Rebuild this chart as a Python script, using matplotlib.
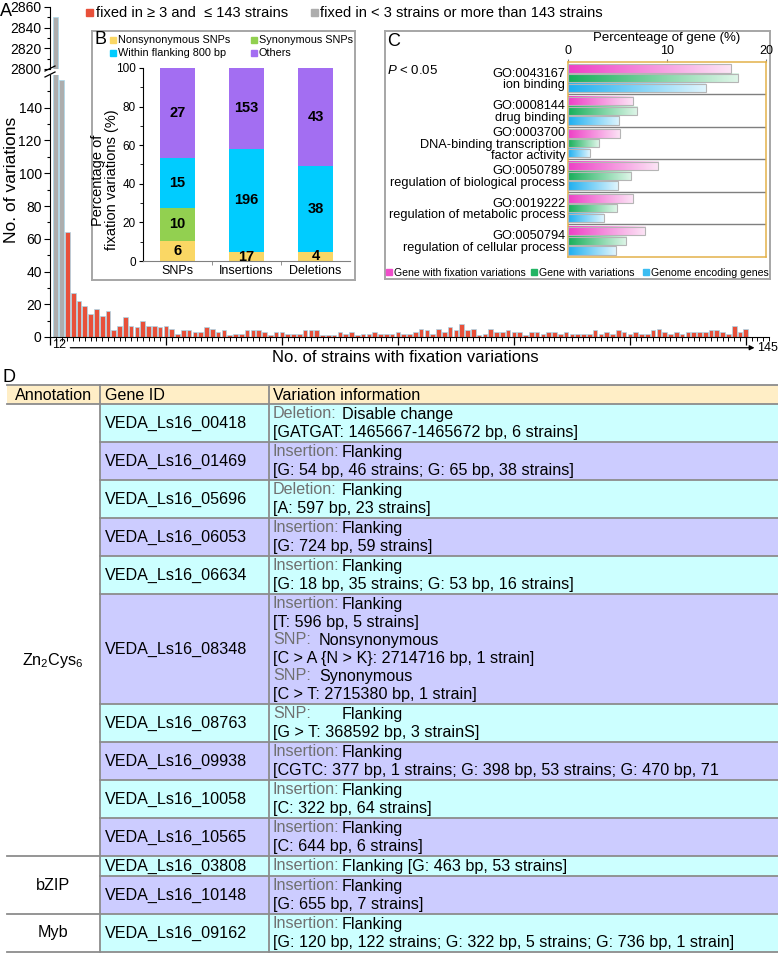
import numpy as np
import matplotlib
matplotlib.use('Agg')
import matplotlib.pyplot as plt
from matplotlib.patches import Rectangle
from matplotlib.colors import LinearSegmentedColormap

plt.rcParams['font.family'] = ['Liberation Sans', 'DejaVu Sans']
plt.rcParams['mathtext.fontset'] = 'custom'
plt.rcParams['mathtext.rm'] = 'Liberation Sans'
plt.rcParams['mathtext.it'] = 'Liberation Sans:italic'
plt.rcParams['mathtext.default'] = 'regular'

W, H = 778, 965

# ---------------- data ----------------
# panel A: number of variations per number of strains carrying the fixation
strain_counts = np.arange(1, 125)
variation_counts = [2850, 157, 64, 27, 22, 19, 14, 17, 13, 16,
                    4, 7, 12, 7, 6, 10, 7, 7, 6, 7,
                    5, 2, 4, 4, 3, 3, 6, 5, 3, 4,
                    1, 2, 2, 4, 4, 4, 3, 1, 3, 3,
                    2, 2, 2, 4, 4, 4, 1, 1, 1, 3,
                    2, 3, 1, 2, 2, 3, 2, 2, 2, 3,
                    2, 2, 3, 5, 4, 2, 5, 3, 6, 4,
                    8, 4, 5, 1, 2, 5, 3, 3, 4, 3,
                    3, 1, 3, 3, 2, 3, 3, 2, 3, 2,
                    2, 2, 2, 4, 2, 3, 2, 4, 3, 2,
                    3, 2, 2, 4, 5, 3, 2, 3, 2, 3,
                    3, 3, 3, 4, 4, 3, 2, 7, 3, 5,
                    0, 0, 0, 0]
gray_strains = [1, 2]

# panel B
b_categories = ['SNPs', 'Insertions', 'Deletions']
b_nonsyn = [6, 17, 4]
b_syn = [10, 0, 0]
b_flank = [15, 196, 38]
b_others = [27, 153, 43]

# panel C
go_terms = ['GO:0043167\nion binding',
            'GO:0008144\ndrug binding',
            'GO:0003700\nDNA-binding transcription\nfactor activity',
            'GO:0050789\nregulation of biological process',
            'GO:0019222\nregulation of metabolic process',
            'GO:0050794\nregulation of cellular process']
pct_fixation = [16.5, 6.6, 5.3, 9.1, 6.6, 7.8]
pct_variation = [17.2, 7.0, 3.1, 6.4, 4.9, 5.9]
pct_genome = [13.9, 5.2, 2.2, 5.0, 3.6, 4.8]

# panel D
annotations = ['Zn$_2$Cys$_6$', 'bZIP', 'Myb']
genes_per_annotation = [10, 2, 1]
gene_ids = ['VEDA_Ls16_00418', 'VEDA_Ls16_01469', 'VEDA_Ls16_05696',
            'VEDA_Ls16_06053', 'VEDA_Ls16_06634', 'VEDA_Ls16_08348',
            'VEDA_Ls16_08763', 'VEDA_Ls16_09938', 'VEDA_Ls16_10058',
            'VEDA_Ls16_10565', 'VEDA_Ls16_03808', 'VEDA_Ls16_10148',
            'VEDA_Ls16_09162']
variation_info = [
    [('Deletion:', 'Disable change'), ('', '[GATGAT: 1465667-1465672 bp, 6 strains]')],
    [('Insertion:', 'Flanking'), ('', '[G: 54 bp, 46 strains; G: 65 bp, 38 strains]')],
    [('Deletion:', 'Flanking'), ('', '[A: 597 bp, 23 strains]')],
    [('Insertion:', 'Flanking'), ('', '[G: 724 bp, 59 strains]')],
    [('Insertion:', 'Flanking'), ('', '[G: 18 bp, 35 strains; G: 53 bp, 16 strains]')],
    [('Insertion:', 'Flanking'), ('', '[T: 596 bp, 5 strains]'),
     ('SNP:', 'Nonsynonymous'), ('', '[C > A {N > K}: 2714716 bp, 1 strain]'),
     ('SNP:', 'Synonymous'), ('', '[C > T: 2715380 bp, 1 strain]')],
    [('SNP:', 'Flanking'), ('', '[G > T: 368592 bp, 3 strainS]')],
    [('Insertion:', 'Flanking'), ('', '[CGTC: 377 bp, 1 strains; G: 398 bp, 53 strains; G: 470 bp, 71')],
    [('Insertion:', 'Flanking'), ('', '[C: 322 bp, 64 strains]')],
    [('Insertion:', 'Flanking'), ('', '[C: 644 bp, 6 strains]')],
    [('Insertion:', 'Flanking [G: 463 bp, 53 strains]')],
    [('Insertion:', 'Flanking'), ('', '[G: 655 bp, 7 strains]')],
    [('Insertion:', 'Flanking'), ('', '[G: 120 bp, 122 strains; G: 322 bp, 5 strains; G: 736 bp, 1 strain]')],
]

RED = '#E8503A'
GRAY = '#ADADAD'

fig = plt.figure(figsize=(W / 100, H / 100), dpi=100)


def px_axes(l, t, r, b, **kw):
    # axes from pixel box (left, top, right, bottom)
    return fig.add_axes([l / W, 1 - b / H, (r - l) / W, (b - t) / H], **kw)


# ---------------- panel A ----------------
ax_top = px_axes(50, 7, 769, 69, zorder=1)
ax_low = px_axes(50, 75, 769, 337, zorder=1)
bar_colors = [GRAY if s in gray_strains else RED for s in strain_counts]
for ax in (ax_top, ax_low):
    ax.bar(strain_counts, variation_counts, width=0.8, color=bar_colors,
           edgecolor='#A8D8EC', linewidth=0.5)
    ax.set_xlim(0, 124)
    ax.spines['top'].set_visible(False)
    ax.spines['right'].set_visible(False)
    ax.tick_params(axis='y', labelsize=10, length=4, width=0.8, pad=2)
    ax.tick_params(axis='y', which='minor', length=2, width=0.8)

ax_top.set_ylim(2800, 2860)
ax_top.set_yticks([2800, 2820, 2840, 2860])
ax_top.set_yticks([2810, 2830, 2850], minor=True)
ax_top.spines['bottom'].set_visible(False)
ax_top.set_xticks([])

ax_low.set_ylim(0, 160)
ax_low.set_yticks(np.arange(0, 141, 20))
ax_low.set_yticks(np.arange(10, 160, 20), minor=True)
ax_low.set_xticks(np.arange(0, 121, 20))
ax_low.set_xticks(strain_counts, minor=True)
ax_low.set_xticklabels([])
ax_low.tick_params(axis='x', which='major', length=6, width=0.9)
ax_low.tick_params(axis='x', which='minor', length=3, width=0.7)

xt = ax_low.get_xaxis_transform()
for s in gray_strains:
    ax_low.text(s, -0.03, str(s), transform=xt, ha='center', va='center', fontsize=9)
ax_low.annotate('', xy=(121.5, -0.041), xytext=(3.5, -0.041), xycoords=xt, textcoords=xt,
                arrowprops=dict(arrowstyle='-|>', color='k', lw=0.9, mutation_scale=7,
                                shrinkA=0, shrinkB=0), annotation_clip=False)
ax_low.text(122.0, -0.041, '145', transform=xt, ha='left', va='center', fontsize=9)

# ---------------- panel B ----------------
box_B = px_axes(92, 31, 355, 280, zorder=2)
box_B.set_xticks([])
box_B.set_yticks([])
for sp in box_B.spines.values():
    sp.set_color('#A6A6A6')
    sp.set_linewidth(1.4)

ax_B = px_axes(143, 68, 350, 261, zorder=3)
ax_B.set_facecolor('none')
xb = np.arange(1, len(b_categories) + 1)
totals = np.array(b_nonsyn) + np.array(b_syn) + np.array(b_flank) + np.array(b_others)
b_series = [(b_nonsyn, '#FAD764', 'Nonsynonymous SNPs'),
            (b_syn, '#92D050', 'Synonymous SNPs'),
            (b_flank, '#00CCFF', 'Within flanking 800 bp'),
            (b_others, '#A36EF2', 'Others')]
bottom = np.zeros(len(xb))
for counts, color, name in b_series:
    pct = np.array(counts) / totals * 100
    ax_B.bar(xb, pct, 0.5, bottom=bottom, color=color)
    for xi, c, p, b0 in zip(xb, counts, pct, bottom):
        if c > 0:
            ax_B.text(xi, b0 + p / 2, str(c), ha='center', va='center',
                      fontsize=10.5, fontweight='bold')
    bottom += pct
ax_B.set_xlim(0.5, 3.5)
ax_B.set_ylim(0, 100)
ax_B.set_xticks(xb)
ax_B.set_xticklabels(b_categories, fontsize=9)
ax_B.set_xticks([1.5, 2.5], minor=True)
ax_B.tick_params(axis='x', which='major', length=0, pad=3)
ax_B.tick_params(axis='x', which='minor', length=3, color='#808080')
ax_B.set_yticks(np.arange(0, 101, 20))
ax_B.set_yticks(np.arange(10, 100, 20), minor=True)
ax_B.tick_params(axis='y', labelsize=8.5, length=3, pad=2)
ax_B.tick_params(axis='y', which='minor', length=2)
ax_B.spines['top'].set_visible(False)
ax_B.spines['right'].set_visible(False)
ax_B.spines['bottom'].set_color('#808080')
ax_B.set_ylabel('Percentage of\nfixation variations (%)', fontsize=10.5, linespacing=1.0)
ax_B.yaxis.set_label_coords(-0.115, 0.42)

# ---------------- panel C ----------------
box_C = px_axes(385, 31, 770, 279, zorder=2)
box_C.set_xticks([])
box_C.set_yticks([])
for sp in box_C.spines.values():
    sp.set_color('#A6A6A6')
    sp.set_linewidth(1.4)

ax_C = px_axes(568, 62, 766, 257, zorder=3)
ax_C.set_facecolor('none')
c_series = [(pct_fixation, '#EE3FC6', '#FCE6F6', '#F04ECB', 'Gene with fixation variations'),
            (pct_variation, '#17AF5A', '#E0F6E9', '#22B464', 'Gene with variations'),
            (pct_genome, '#1EAFF0', '#E0F5FD', '#3CBDF2', 'Genome encoding genes')]
grad = np.linspace(0, 1, 256).reshape(1, -1)
bar_h = 0.25
for j, (vals, c0, c1, _, _) in enumerate(c_series):
    cmap = LinearSegmentedColormap.from_list('g%d' % j, [c0, c1])
    for i, v in enumerate(vals):
        yc = i + 0.2 + 0.3 * j
        ax_C.imshow(grad, cmap=cmap, aspect='auto', extent=[0, v, yc + bar_h / 2, yc - bar_h / 2],
                    zorder=2)
        ax_C.add_patch(Rectangle((0, yc - bar_h / 2), v, bar_h, fill=False,
                                 edgecolor='#B5B5B5', lw=0.8, zorder=3))
for i in range(1, len(go_terms)):
    ax_C.axhline(i, color='#7F7F7F', lw=1, zorder=1)
ax_C.set_xlim(0, 20)
ax_C.set_ylim(len(go_terms), 0)
ax_C.xaxis.tick_top()
ax_C.xaxis.set_label_position('top')
ax_C.set_xticks([0, 10, 20])
ax_C.tick_params(axis='x', labelsize=9, length=2.5, pad=1, color='#808080')
ax_C.set_xlabel('Percenteage of gene (%)', fontsize=9.5, labelpad=3)
ax_C.set_yticks(np.arange(len(go_terms)) + 0.5)
ax_C.set_yticklabels(go_terms, fontsize=9.2)
for lbl in ax_C.get_yticklabels():
    lbl.set_linespacing(0.95)
ax_C.tick_params(axis='y', length=0, pad=2)
for sp in ax_C.spines.values():
    sp.set_color('#E3B24A')
    sp.set_linewidth(1.1)

# ---------------- overlay (labels, legends, table) ----------------
ov = fig.add_axes([0, 0, 1, 1], zorder=10)
ov.set_xlim(0, W)
ov.set_ylim(H, 0)
ov.axis('off')

for lab, x, y in [('A', 0, 12), ('B', 95, 40), ('C', 387, 41), ('D', 3, 377)]:
    ov.text(x, y, lab, fontsize=13, ha='left', va='center')

# A legend + labels
ov.add_patch(Rectangle((86, 9), 7, 7, color=RED))
ov.text(96, 13, 'fixed in \u2265 3 and  \u2264 143 strains', fontsize=10.5, va='center')
ov.add_patch(Rectangle((311, 9), 7, 7, color=GRAY))
ov.text(320, 13, 'fixed in < 3 strains or more than 143 strains', fontsize=10.5, va='center')
ov.text(12, 180, 'No. of variations', rotation=90, fontsize=12.5, ha='center', va='center')
ov.text(405, 357, 'No. of strains with fixation variations', fontsize=12, ha='center', va='center')
for dy in (0, 6):
    ov.plot([45, 55], [71 + dy, 66 + dy], color='k', lw=0.9)

# B legend
for k, (counts, color, name) in enumerate(b_series):
    lx = 110 + 141 * (k % 2)
    ly = 40 + 13 * (k // 2)
    ov.add_patch(Rectangle((lx, ly - 3), 6, 6, color=color))
    ov.text(lx + 8, ly, name, fontsize=7.8, va='center')

# C legend + P value
ov.text(387, 70, r'$\mathit{P}$ < 0.05', fontsize=9.5, va='center')
for (vals, c0, c1, lc, name), lx in zip(c_series, [386, 531, 643]):
    ov.add_patch(Rectangle((lx, 269), 6, 6, color=lc))
    ov.text(lx + 8, 272.5, name, fontsize=7.6, va='center')

# D table
LINE = '#8C8C8C'
LW = 1.3
FS = 11.6
col_x = [7, 100, 269, W]
head_top, head_bot = 385, 404
ov.add_patch(Rectangle((col_x[0], head_top), W - col_x[0], head_bot - head_top,
                       facecolor='#FFEEC6', edgecolor='none'))
for txt, x in zip(['Annotation', 'Gene ID', 'Variation information'], [15, 105, 273]):
    ov.text(x, (head_top + head_bot) / 2 + 0.5, txt, fontsize=FS, va='center')

line_h = 18
tops = []
y = head_bot
for info in variation_info:
    tops.append(y)
    y += line_h * len(info) + 2
table_bot = y

group_ends = np.cumsum(genes_per_annotation)
for r, (gid, info) in enumerate(zip(gene_ids, variation_info)):
    t = tops[r]
    h = line_h * len(info) + 2
    ov.add_patch(Rectangle((col_x[1], t), W - col_x[1], h,
                           facecolor='#CCFFFF' if r % 2 == 0 else '#CCCCFF', edgecolor='none'))
    ov.text(105, t + h / 2, gid, fontsize=FS, va='center')
    for i, (kind, rest) in enumerate(info):
        ly = t + 10 + line_h * i
        if kind:
            ov.text(273, ly, kind, fontsize=FS, va='center', color='#707070')
            rx = 319 if (kind == 'SNP:' and rest != 'Flanking') else 342
            ov.text(rx, ly, rest, fontsize=FS, va='center')
        else:
            ov.text(273, ly, rest, fontsize=FS, va='center')
    x0 = col_x[0] if (r + 1) in group_ends else col_x[1]
    ov.plot([x0, W], [t + h, t + h], color=LINE, lw=LW)

# annotation labels
label_shift = [31, 0, 0]
start = 0
for name, n, sh in zip(annotations, genes_per_annotation, label_shift):
    y0 = tops[start]
    y1 = tops[start + n] if start + n < len(tops) else table_bot
    ov.text(53, (y0 + y1) / 2 + sh, name, fontsize=FS, ha='center', va='center')
    start += n

ov.plot([col_x[0], W], [head_top, head_top], color=LINE, lw=LW)
ov.plot([col_x[0], W], [head_bot, head_bot], color=LINE, lw=LW)
for x in col_x[1:3]:
    ov.plot([x, x], [head_top, table_bot], color=LINE, lw=LW)

fig.savefig('out.png', dpi=100)
